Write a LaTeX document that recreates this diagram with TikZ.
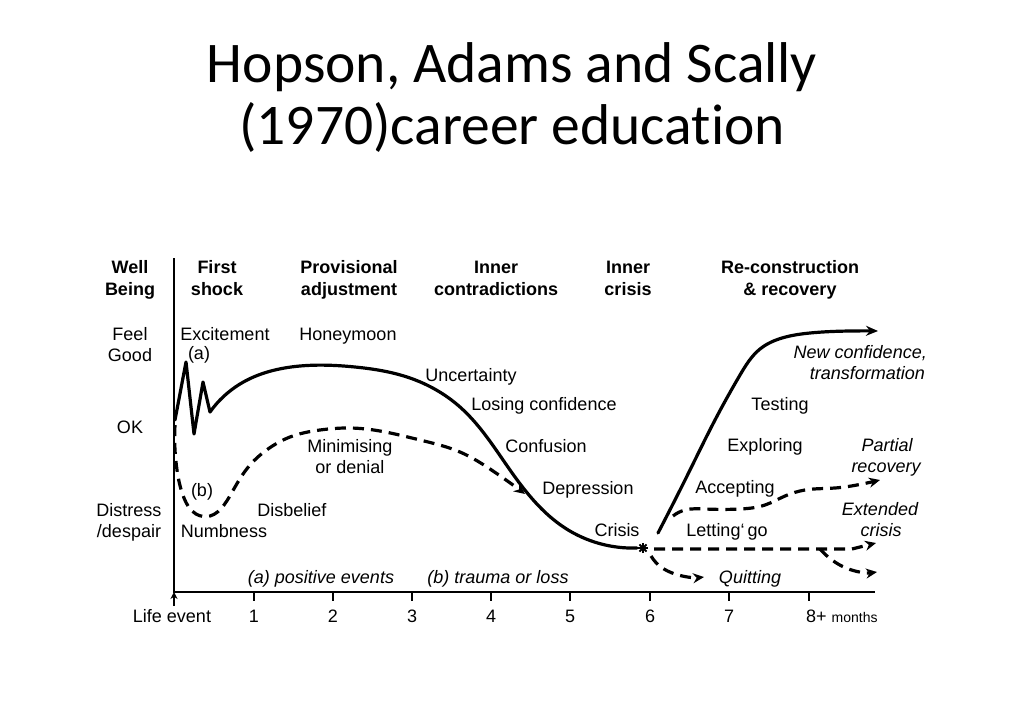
\documentclass[tikz,border=0pt]{standalone}
\usepackage{fontspec}
\setmainfont{Liberation Sans}
\newfontfamily\titlefont[Ligatures=NoCommon]{Carlito}
\usetikzlibrary{arrows.meta,hobby}
\begin{document}
\begin{tikzpicture}[x=1pt,y=-1pt,
  lbl/.style={inner sep=0pt, anchor=base, font=\fontsize{18}{22}\selectfont},
  hdr/.style={lbl, font=\fontsize{18}{22}\selectfont\bfseries},
  itl/.style={lbl, font=\fontsize{18}{22}\selectfont\itshape},
  ttl/.style={inner sep=0pt, anchor=base, font=\titlefont\fontsize{57.5}{66}\selectfont},
  curve/.style={line width=3.2pt, line cap=round, line join=round},
  dcurve/.style={line width=3.2pt, line cap=butt, line join=round, dash pattern=on 11pt off 7pt},
  axis/.style={line width=1.4pt},
  tip/.style={-{Stealth[length=12pt,width=10pt]}},
  dtip/.style={-{Stealth[length=11pt,width=10pt]}},
]
\useasboundingbox (0,0) rectangle (1024,709);
\fill[white] (0,0) rectangle (1024,709);

% title
\node[ttl] (t1) at (512,82) {Hopson, Adams and Scally};
\node[ttl] (t2) at (512,144) {(1970)career education};

% axes
\coordinate (o) at (174,592);
\coordinate (ytop) at (174,258);
\coordinate (xend) at (875,592);
\coordinate (ybot) at (174,606);
\draw[axis] (ytop) -- (o) -- (xend);
\draw[axis, -{Stealth[length=7pt,width=7pt]}] (ybot) -- (o);
\foreach \x/\t in {254/1,333/2,412/3,491/4,570/5,650/6,729/7}{
  \draw[axis] (\x,592) -- (\x,601);
  \node[lbl] (tk\t) at (\x,622) {\t};
}
\draw[axis] (809,592) -- (809,601);
\node[lbl, anchor=base west] (tk8) at (806,622) {8+ {\fontsize{14}{16}\selectfont months}};
\node[lbl] (life) at (172,622) {Life event};

% header row
\node[hdr] (h1a) at (130,273) {Well};
\node[hdr] (h1b) at (130,295) {Being};
\node[hdr] (h2a) at (217,273) {First};
\node[hdr] (h2b) at (217,295) {shock};
\node[hdr] (h3a) at (349,273) {Provisional};
\node[hdr] (h3b) at (349,295) {adjustment};
\node[hdr] (h4a) at (496,273) {Inner};
\node[hdr] (h4b) at (496,295) {contradictions};
\node[hdr] (h5a) at (628,273) {Inner};
\node[hdr] (h5b) at (628,295) {crisis};
\node[hdr] (h6a) at (790,273) {Re-construction};
\node[hdr] (h6b) at (790,295) {\& recovery};

% row labels
\node[lbl] (fg1) at (130,340) {Feel};
\node[lbl] (fg2) at (130,361) {Good};
\node[lbl] (ok) at (130,433) {OK};
\node[lbl] (ds1) at (129,516) {Distress};
\node[lbl] (ds2) at (129,537) {/despair};

% stage labels
\node[lbl] (exc) at (225,340) {Excitement};
\node[lbl] (la) at (199,359) {(a)};
\node[lbl] (hon) at (348,340) {Honeymoon};
\node[lbl] (unc) at (471,381) {Uncertainty};
\node[lbl] (los) at (544,410) {Losing confidence};
\node[lbl] (con) at (546,452) {Confusion};
\node[lbl] (dep) at (588,494) {Depression};
\node[lbl] (cri) at (617,536) {Crisis};
\node[lbl] (min1) at (350,452) {Minimising};
\node[lbl] (min2) at (350,473) {or denial};
\node[lbl] (lb) at (202,496) {(b)};
\node[lbl] (dis) at (292,516) {Disbelief};
\node[lbl] (num) at (224,537) {Numbness};
\node[itl] (pos) at (321,583) {(a) positive events};
\node[itl] (tra) at (498,583) {(b) trauma or loss};
\node[itl, anchor=base east] (nc1) at (927,358) {New confidence,};
\node[itl, anchor=base east] (nc2) at (925,379) {transformation};
\node[lbl] (tes) at (780,410) {Testing};
\node[lbl] (exp) at (765,451) {Exploring};
\node[itl] (pr1) at (887,451) {Partial};
\node[itl] (pr2) at (886,472) {recovery};
\node[lbl] (acc) at (735,493) {Accepting};
\node[itl] (ex1) at (880,515) {Extended};
\node[itl] (ex2) at (881,536) {crisis};
\node[lbl] (let) at (727,536) {Letting\char96{}\,go};
\node[itl] (qui) at (750,583) {Quitting};

% curve (a): positive events
\draw[curve] (175,420) -- (186,362) -- (194,434) -- (203,382) -- (210,412);
\draw[curve, use Hobby shortcut] (210,412) .. (240,384) .. (300,366) .. (355,367) .. (410,378) .. (460,407) .. (510,470) .. (565,528) .. (637,548);

% curve (b): trauma or loss
\draw[dcurve, dtip, use Hobby shortcut] (175,425) .. (177,470) .. (184,498) .. (196,514) .. (210,516) .. (224,505) .. (235,487) .. (250,465) .. (268,449) .. (290,437) .. (320,430) .. (350,428) .. (380,431) .. (420,440) .. (460,452) .. (493,471) .. (525,494);

% asterisk
\coordinate (ast) at (643,548);
\foreach \a in {0,45,90,135}{
  \draw[line width=1.8pt] (ast) ++(\a:5) -- ++(\a+180:10);
}

% recovery
\draw[curve, tip, use Hobby shortcut] (658,533) .. (690,470) .. (715,420) .. (740,375) .. (760,349) .. (782,338) .. (810,333) .. (850,331) .. (878,331);

% partial recovery
\draw[dcurve, dtip, use Hobby shortcut] (673,516) .. (685,510) .. (705,509) .. (740,509) .. (765,505) .. (785,496) .. (805,490) .. (835,488) .. (862,484) .. (880,480);

% extended crisis
\draw[dcurve, dtip] (654,549) -- (852,549) -- (876,543);
\draw[dcurve, dtip, use Hobby shortcut] (820,549) .. (832,560) .. (846,568) .. (877,572);

% quitting
\draw[dcurve, dtip, use Hobby shortcut] (651,556) .. (661,567) .. (675,574) .. (704,577);
\end{tikzpicture}
\end{document}
